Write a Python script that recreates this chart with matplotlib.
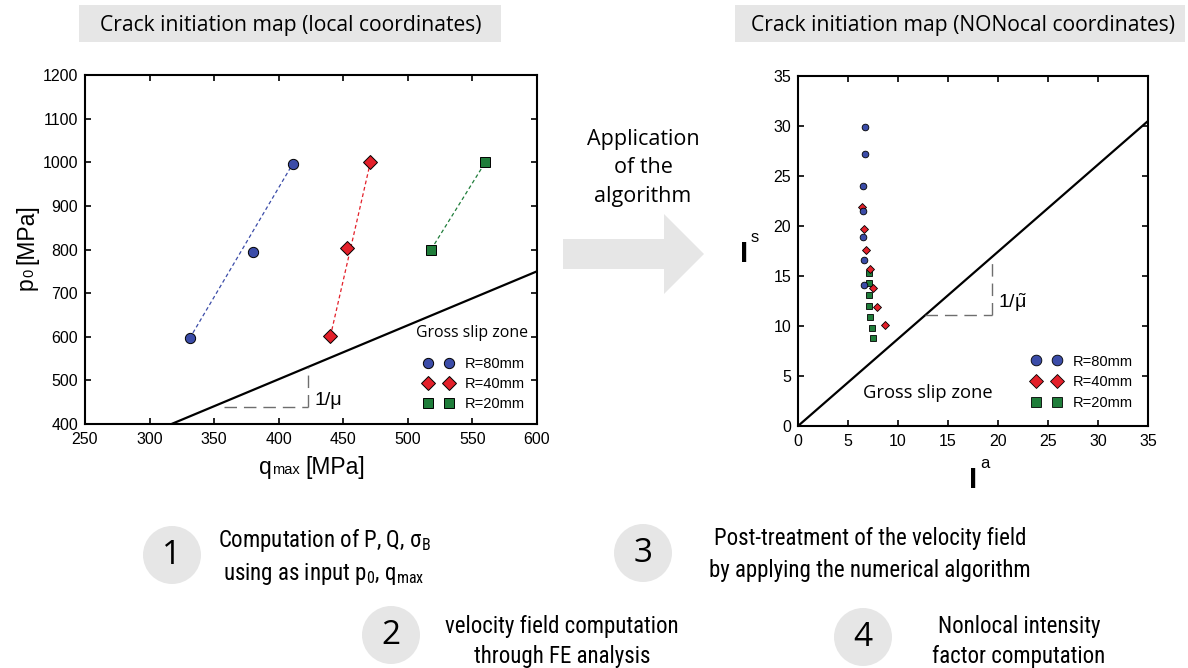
import matplotlib
matplotlib.use("Agg")
import matplotlib.pyplot as plt
from matplotlib import font_manager
from matplotlib.patches import Rectangle, Circle, Polygon

# ---------------- data ----------------
# local coordinates: q_max [MPa] vs p0 [MPa]
q_r80 = [331, 380, 411]
p_r80 = [596, 795, 997]
q_r40 = [440, 453, 471]
p_r40 = [601, 804, 1000]
q_r20 = [518, 560]
p_r20 = [800, 1000]

# gross slip boundary (local)
slip_q = [317, 600]
slip_p = [400, 750]

# nonlocal coordinates: I^a vs I^s
Ia_r80 = [6.73, 6.70, 6.53, 6.53, 6.50, 6.57, 6.63]
Is_r80 = [29.9, 27.2, 24.0, 21.5, 18.9, 16.6, 14.1]
Ia_r40 = [6.43, 6.63, 6.83, 7.17, 7.47, 7.93, 8.73]
Is_r40 = [21.9, 19.75, 17.65, 15.7, 13.8, 11.9, 10.15]
Ia_r20 = [7.13, 7.13, 7.13, 7.13, 7.23, 7.37, 7.53]
Is_r20 = [15.3, 14.3, 13.1, 12.0, 10.9, 9.8, 8.85]

# gross slip boundary (nonlocal)
slip_Ia = [0, 35]
slip_Is = [0, 30.5]

labels = ["R=80mm", "R=40mm", "R=20mm"]
steps = [
    ("1", ["Computation of P, Q, σ$_\\mathregular{B}$",
           "using as input p$_\\mathregular{0}$, q$_\\mathregular{max}$"]),
    ("2", ["velocity field computation", "through FE analysis"]),
    ("3", ["Post-treatment of the velocity field",
           "by applying the numerical algorithm"]),
    ("4", ["Nonlocal intensity", "factor computation"]),
]

# ---------------- fonts / colours ----------------
names = {f.name for f in font_manager.fontManager.ttflist}
NARROW = next((n for n in ["Roboto Condensed", "Liberation Sans Narrow",
                           "Open Sans Condensed"] if n in names), "Open Sans")
NARROW_SIZE = 16.5 if NARROW != "Open Sans" else 15
HUM = "Open Sans"
ARIAL = "Liberation Sans"
plt.rcParams["font.family"] = [ARIAL, "DejaVu Sans"]
plt.rcParams["mathtext.fontset"] = "custom"
plt.rcParams["mathtext.rm"] = ARIAL
plt.rcParams["mathtext.it"] = ARIAL + ":italic"
plt.rcParams["mathtext.bf"] = ARIAL + ":bold"

BLUE = "#3b4ca8"
RED = "#e3202a"
GREEN = "#1f7d3a"
GREY = "#e6e6e6"

W, H = 1188, 668
fig = plt.figure(figsize=(W / 100, H / 100), dpi=100)

# pixel-space overlay for the figure decoration
ov = fig.add_axes([0, 0, 1, 1], zorder=0)
ov.set_xlim(0, W)
ov.set_ylim(H, 0)
ov.axis("off")


def px_axes(x0, y0, x1, y1):
    return fig.add_axes([x0 / W, 1 - y1 / H, (x1 - x0) / W, (y1 - y0) / H], zorder=2)


def style_axes(ax):
    for s in ax.spines.values():
        s.set_linewidth(1.5)
    ax.tick_params(direction="in", length=4, width=1.2, top=True, right=True,
                   labelsize=11.5, colors="black")
    ax.tick_params(axis="x", pad=6)
    ax.tick_params(axis="y", pad=5)


# ---------------- left: local coordinates ----------------
axL = px_axes(85, 75, 537, 424)
axL.set_xlim(250, 600)
axL.set_ylim(400, 1200)
axL.set_xticks(range(250, 601, 50))
axL.set_yticks(range(400, 1201, 100))
style_axes(axL)

fit_kw = dict(lw=0.9, dashes=(3, 2.2), zorder=2)
axL.plot([q_r80[0], q_r80[-1]], [p_r80[0], p_r80[-1]], color=BLUE, **fit_kw)
axL.plot([q_r40[0], q_r40[-1]], [p_r40[0], p_r40[-1]], color=RED, **fit_kw)
axL.plot([q_r20[0], q_r20[-1]], [p_r20[0], p_r20[-1]], color=GREEN, **fit_kw)
axL.plot(slip_q, slip_p, color="black", lw=1.6, zorder=2, clip_on=True)

mk = dict(ls="none", mec="black", mew=0.7, zorder=3)
hL80, = axL.plot(q_r80, p_r80, "o", ms=7.4, mfc=BLUE, **mk)
hL40, = axL.plot(q_r40, p_r40, "D", ms=7.4, mfc=RED, **mk)
hL20, = axL.plot(q_r20, p_r20, "s", ms=7.2, mfc=GREEN, **mk)

# slope triangle
tri_kw = dict(color="#6e6e6e", lw=1.0, dashes=(9, 5))
axL.plot([358, 423], [439, 439], **tri_kw)
axL.plot([423, 423], [439, 531], **tri_kw)
axL.text(428, 455, "1/μ", fontsize=14, ha="left", va="center")
axL.text(506, 609, "Gross slip zone", family=HUM, fontsize=11.4, ha="left", va="center")

axL.legend([hL80, hL40, hL20], labels, numpoints=2, loc="upper left",
           bbox_to_anchor=(0.75, 0.193), frameon=False, borderpad=0,
           borderaxespad=0, handlelength=2.0, handletextpad=0.8,
           labelspacing=0.42, prop={"family": ARIAL, "size": 10.5})

# ---------------- right: nonlocal coordinates ----------------
axR = px_axes(798, 76, 1148, 426)
axR.set_xlim(0, 35)
axR.set_ylim(0, 35)
axR.set_xticks(range(0, 36, 5))
axR.set_yticks(range(0, 36, 5))
style_axes(axR)

axR.plot(slip_Ia, slip_Is, color="black", lw=1.6, zorder=2)
mk2 = dict(ls="none", mec="black", mew=0.6, zorder=3)
hR20, = axR.plot(Ia_r20, Is_r20, "s", ms=4.4, mfc=GREEN, **mk2)
hR40, = axR.plot(Ia_r40, Is_r40, "D", ms=4.3, mfc=RED, **mk2)
hR80, = axR.plot(Ia_r80, Is_r80, "o", ms=4.8, mfc=BLUE, **mk2)

axR.plot([12.7, 19.4], [11.1, 11.1], **tri_kw)
axR.plot([19.4, 19.4], [11.1, 16.9], **tri_kw)
axR.text(20.0, 12.3, r"1/$\tilde{\mathrm{\mu}}$", fontsize=14, ha="left", va="center")
axR.text(6.5, 3.3, "Gross slip zone", family=HUM, fontsize=13.2, ha="left", va="center")

axR.legend([hR80, hR40, hR20], labels, numpoints=2, markerscale=1.6, loc="upper left",
           bbox_to_anchor=(0.667, 0.204), frameon=False, borderpad=0,
           borderaxespad=0, handlelength=2.05, handletextpad=0.8,
           labelspacing=0.45, prop={"family": ARIAL, "size": 10.5})

# ---------------- axis labels built from pieces ----------------
renderer = fig.canvas.get_renderer()


def chain(pieces, x, y, rot=0):
    """Lay out text pieces along one baseline, centred on (x, y)."""
    items = []
    for p in pieces:
        if isinstance(p, (int, float)):
            items.append((None, p))
            continue
        s, size = p
        t = ov.text(0, 0, s, fontsize=size, rotation=rot, rotation_mode="anchor",
                    ha="left", va="baseline", family=ARIAL)
        bb = t.get_window_extent(renderer)
        items.append((t, bb.height if rot else bb.width))
    total = sum(L for _, L in items)
    pos = -total / 2
    for t, L in items:
        if t is not None:
            if rot:
                t.set_position((x, y - pos))
            else:
                t.set_position((x + pos, y))
        pos += L


chain([("q", 16.5), 0.5, ("max", 10.5), 5, ("[MPa]", 16.5)], 312, 474)
chain([("p", 16.5), 0.5, ("0", 10.5), 5, ("[MPa]", 16.5)], 33, 247, rot=90)

ov.text(744, 262, "I", fontsize=21, fontweight="bold", ha="center", va="baseline", family=ARIAL)
ov.text(751, 242, "s", fontsize=12, ha="left", va="baseline", family=ARIAL)
ov.text(973, 488, "I", fontsize=21, fontweight="bold", ha="center", va="baseline", family=ARIAL)
ov.text(980, 468, "a", fontsize=12, ha="left", va="baseline", family=ARIAL)

# ---------------- headers ----------------
ov.add_patch(Rectangle((79, 5), 422, 37, color=GREY, lw=0))
ov.add_patch(Rectangle((735, 5), 450, 37, color=GREY, lw=0))
ov.text(291, 31, "Crack initiation map (local coordinates)", family=HUM,
        fontsize=15.2, ha="center", va="baseline")
ov.text(963, 31, "Crack initiation map (NONocal coordinates)", family=HUM,
        fontsize=15.2, ha="center", va="baseline")

# ---------------- central arrow ----------------
ov.add_patch(Polygon([(563, 239), (664, 239), (664, 214), (704, 254),
                      (664, 294), (664, 269), (563, 269)], closed=True,
                     color=GREY, lw=0))
for s, yb in zip(["Application", "of the", "algorithm"], [145, 173, 202]):
    ov.text(643, yb, s, family=HUM, fontsize=15.5, ha="center", va="baseline")

# ---------------- workflow steps ----------------
step_layout = {
    "1": ((172, 555), 324, (547, 580)),
    "2": ((391, 635), 562, (633, 663)),
    "3": ((643, 553), 870, (545, 577)),
    "4": ((863, 637), 1019, (633, 663)),
}
for num, lines in steps:
    (cx, cy), tx, ybs = step_layout[num]
    ov.add_patch(Circle((cx, cy), 29, color=GREY, lw=0))
    ov.text(cx, cy + 1, num, family=HUM, fontsize=24, ha="center", va="center")
    for s, yb in zip(lines, ybs):
        ov.text(tx, yb, s, family=NARROW, fontsize=NARROW_SIZE, ha="center", va="baseline")

fig.savefig("out.png", dpi=100, facecolor="white")
